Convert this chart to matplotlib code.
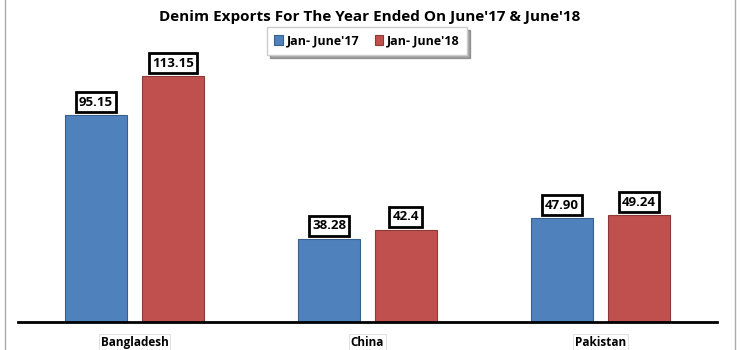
import numpy as np
import matplotlib.pyplot as plt
from matplotlib.patches import Rectangle

# data
countries = ['Bangladesh', 'China', 'Pakistan']
jun17 = [95.15, 38.28, 47.90]
jun18 = [113.15, 42.4, 49.24]
labels17 = ['95.15', '38.28', '47.90']
labels18 = ['113.15', '42.4', '49.24']

plt.rcParams['font.family'] = ['Open Sans', 'DejaVu Sans']

fig = plt.figure(figsize=(7.4, 3.5), dpi=100)
ax = fig.add_axes([18/740, 28/350, 699/740, 272/350])

x = np.arange(len(countries))
w = 0.266
b1 = ax.bar(x - 0.165, jun17, w, color='#4F81BD', edgecolor='#3A5F8A', linewidth=0.8, label="Jan- June'17")
b2 = ax.bar(x + 0.165, jun18, w, color='#C0504D', edgecolor='#8C3A38', linewidth=0.8, label="Jan- June'18")

box = dict(boxstyle='square,pad=0.25', fc='white', ec='black', lw=2)
for rects, labs in ((b1, labels17), (b2, labels18)):
    for r, t in zip(rects, labs):
        ax.annotate(t, (r.get_x() + r.get_width() / 2, r.get_height()),
                    xytext=(0, 4.5), textcoords='offset points', ha='center', va='bottom',
                    fontsize=9.5, fontweight='bold', bbox=box)

ax.set_xlim(-0.5, 2.5)
ax.set_ylim(0, 125)
ax.set_yticks([])
ax.set_xticks(x)
ax.set_xticklabels(countries, fontsize=8.5, fontweight='bold')
ax.tick_params(axis='x', length=0, pad=10)
for lbl in ax.get_xticklabels():
    lbl.set_bbox(dict(boxstyle='square,pad=0.15', fc='white', ec='#dddddd', lw=0.6))
for s in ('top', 'right', 'left'):
    ax.spines[s].set_visible(False)
ax.spines['bottom'].set_linewidth(2)

fig.text(0.5, 0.952, "Denim Exports For The Year Ended On June'17 & June'18",
         ha='center', va='center', fontsize=11, fontweight='bold')

leg = fig.legend(loc='center', bbox_to_anchor=(0.496, 0.883), ncol=2, frameon=True,
                 shadow=True, fontsize=9, handlelength=0.7, handleheight=0.9,
                 handletextpad=0.3, columnspacing=1.2, borderpad=0.6, fancybox=False)
leg.get_frame().set_edgecolor('#cccccc')
for t in leg.get_texts():
    t.set_fontweight('bold')

fig.patches.append(Rectangle((5/740, -0.01), 730/740, 1.02, transform=fig.transFigure,
                             fill=False, ec='#aaaaaa', lw=1))

fig.savefig('out.png', dpi=100)
